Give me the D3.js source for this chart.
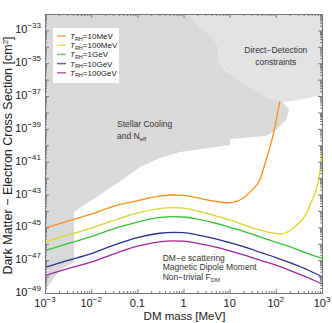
<!DOCTYPE html>
<html>
<head>
<meta charset="utf-8">
<script src="https://cdn.jsdelivr.net/npm/d3@7"></script>
<style>
  body { margin: 0; background: #fff; }
  svg text { font-family: "Liberation Sans", Arial, sans-serif; }
</style>
</head>
<body>
<div id="chart"></div>
<script>
// DM mass grid [MeV] and log10(cross section / cm^2)
const massLow = [1e-3, 3e-3, 1e-2, 3e-2, 0.1, 0.3, 0.6, 1, 2, 5, 10, 20, 50, 100, 200, 500, 1000];
const green  = [-46.42, -46.0, -45.57, -45.1, -44.68, -44.41, -44.35, -44.37, -44.5, -44.75, -45.0, -45.25, -45.62, -45.9, -46.18, -46.6, -46.89];
const blue   = [-47.44, -47.03, -46.6, -46.1, -45.62, -45.36, -45.3, -45.32, -45.46, -45.7, -45.93, -46.18, -46.56, -46.84, -47.15, -47.6, -48.01];
const purple = [-47.94, -47.53, -47.12, -46.63, -46.15, -45.88, -45.82, -45.84, -45.97, -46.2, -46.43, -46.68, -47.04, -47.3, -47.62, -48.07, -48.45];

const massYellow = [1e-3, 3e-3, 1e-2, 3e-2, 0.1, 0.3, 0.6, 1, 2, 5, 10, 20, 50, 100, 120, 200, 300, 450, 600, 750, 900, 1000];
const yellow = [-45.9, -45.48, -45.05, -44.58, -44.13, -43.86, -43.8, -43.83, -44.0, -44.3, -44.55, -44.85, -45.2, -45.38, -45.4, -45.22, -44.8, -44.2, -43.4, -42.7, -41.6, -40.3];

const massOrange = [1e-3, 3e-3, 1e-2, 3e-2, 0.1, 0.3, 0.6, 1, 2, 5, 9, 15, 20, 30, 45, 60, 87, 123];
const orange = [-45.05, -44.63, -44.2, -43.72, -43.38, -43.1, -43.03, -43.05, -43.2, -43.42, -43.5, -43.4, -43.2, -42.75, -42.1, -41.0, -39.4, -37.3];

const series = [
  { name: "10MeV",  mass: massOrange, val: orange, color: "#ff8c1a" },
  { name: "100MeV", mass: massYellow, val: yellow, color: "#d6d62c" },
  { name: "1GeV",   mass: massLow,    val: green,  color: "#33c433" },
  { name: "10GeV",  mass: massLow,    val: blue,   color: "#2b2f8f" },
  { name: "100GeV", mass: massLow,    val: purple, color: "#a0259e" }
];

// excluded regions, [log10 mass, log10 sigma]
const stellarRegion = [[-3, -32], [0.141, -32], [0.335, -32.79], [0.639, -33.4], [0.747, -34.01], [0.769, -34.99],
  [0.92, -35.47], [1.137, -35.9], [1.418, -36.39], [1.787, -37.06], [2.155, -37.36], [2.285, -37.85],
  [2.22, -38.46], [2.003, -39.07], [1.787, -39.43], [1.007, -39.62], [1.007, -39.98], [-0.076, -40.41],
  [-0.509, -40.78], [-0.942, -41.32], [-1.332, -42.12], [-1.657, -42.73], [-2.372, -44.07], [-2.372, -47.11],
  [-2.675, -47.6], [-3, -48.82]];
const directRegion = [[0.097, -32], [3, -32], [3, -36.94], [2.805, -37.06], [2.501, -37.24], [2.155, -37.36],
  [1.787, -37.06], [1.418, -36.45], [1.137, -35.96], [0.964, -35.53], [0.769, -34.99], [0.747, -34.01],
  [0.639, -33.4], [0.335, -32.79]];

const xTickVals = [1e-3, 1e-2, 0.1, 1, 10, 100, 1000];
const xTickLabels = [["10", "−3"], ["10", "−2"], ["0.1", ""], ["1", ""], ["10", ""], ["10", "2"], ["10", "3"]];
const yLabelExp = [-49, -47, -45, -43, -41, -39, -37, -35, -33];

const width = 332, height = 323;
const margin = { left: 45, right: 10, top: 14, bottom: 30 };
const innerWidth = width - margin.left - margin.right;
const innerHeight = height - margin.top - margin.bottom;

const svg = d3.select("#chart").append("svg")
  .attr("width", width).attr("height", height);
const g = svg.append("g").attr("transform", `translate(${margin.left},${margin.top})`);

const xScale = d3.scaleLog().domain([1e-3, 1e3]).range([0, innerWidth]);
const yScale = d3.scaleLog().domain([1e-49, 1e-32]).range([innerHeight, 0]);
const px = lm => xScale(Math.pow(10, lm));
const py = ls => yScale(Math.pow(10, ls));

g.append("clipPath").attr("id", "clip").append("rect")
  .attr("width", innerWidth).attr("height", innerHeight);
const plot = g.append("g").attr("clip-path", "url(#clip)");

const area = d3.line().x(d => px(d[0])).y(d => py(d[1]));
plot.append("path").datum(stellarRegion).attr("d", d => area(d) + "Z").attr("fill", "#d9d9d9");

const line = d3.line()
  .x(d => xScale(d[0]))
  .y(d => yScale(Math.pow(10, d[1])))
  .curve(d3.curveMonotoneX);
series.forEach(s => {
  plot.append("path")
    .datum(s.mass.map((m, i) => [m, s.val[i]]))
    .attr("d", line)
    .attr("fill", "none")
    .attr("stroke", s.color)
    .attr("stroke-width", 1.3);
});

plot.append("path").datum(directRegion).attr("d", d => area(d) + "Z").attr("fill", "#e3e3e3");

// region labels
const lab = g.append("g").attr("fill", "#333").style("font-size", "8.5px");
lab.append("text").attr("x", px(-1.44)).attr("y", py(-38.88)).text("Stellar Cooling");
const neff = lab.append("text").attr("x", px(-1.44)).attr("y", py(-39.6)).text("and N");
neff.append("tspan").attr("dy", 2).style("font-size", "6px").text("eff");
lab.append("text").attr("x", px(2.0)).attr("y", py(-34.4)).attr("text-anchor", "middle").text("Direct−Detection");
lab.append("text").attr("x", px(2.0)).attr("y", py(-35.12)).attr("text-anchor", "middle").text("constraints");
lab.append("text").attr("x", px(-0.45)).attr("y", py(-47.05)).text("DM−e scattering");
lab.append("text").attr("x", px(-0.45)).attr("y", py(-47.6)).text("Magnetic Dipole Moment");
const fdm = lab.append("text").attr("x", px(-0.45)).attr("y", py(-48.18)).text("Non−trivial F");
fdm.append("tspan").attr("dy", 2).style("font-size", "6px").text("DM");

// axes: major and minor ticks, pointing inward, on all four sides
const minorVals = (lo, hi) => {
  const v = [];
  for (let k = lo; k < hi; k++) for (let j = 2; j <= 9; j++) v.push(j * Math.pow(10, k));
  return v;
};
const yMajor = d3.range(-49, -31).map(k => Math.pow(10, k));
const axisColor = "#777";

function styleAxis(sel) {
  sel.select(".domain").attr("stroke", axisColor);
  sel.selectAll(".tick line").attr("stroke", axisColor);
}

[["bottom", innerHeight], ["top", 0]].forEach(([side, y0]) => {
  const make = side === "bottom" ? d3.axisBottom : d3.axisTop;
  g.append("g").attr("transform", `translate(0,${y0})`)
    .call(make(xScale).tickValues(minorVals(-3, 3)).tickSize(-2).tickFormat(""))
    .call(styleAxis);
  g.append("g").attr("transform", `translate(0,${y0})`)
    .call(make(xScale).tickValues(xTickVals).tickSize(-4).tickFormat(""))
    .call(styleAxis);
});
[["left", 0], ["right", innerWidth]].forEach(([side, x0]) => {
  const make = side === "left" ? d3.axisLeft : d3.axisRight;
  g.append("g").attr("transform", `translate(${x0},0)`)
    .call(make(yScale).tickValues(minorVals(-49, -32)).tickSize(-2).tickFormat(""))
    .call(styleAxis);
  g.append("g").attr("transform", `translate(${x0},0)`)
    .call(make(yScale).tickValues(yMajor).tickSize(-4).tickFormat(""))
    .call(styleAxis);
});

// tick labels
const tl = g.append("g").attr("fill", "#222").style("font-size", "11px");
xTickVals.forEach((v, i) => {
  const t = tl.append("text").attr("x", xScale(v)).attr("y", innerHeight + 14)
    .attr("text-anchor", "middle").text(xTickLabels[i][0]);
  if (xTickLabels[i][1]) t.append("tspan").attr("dy", -5).style("font-size", "8px").text(xTickLabels[i][1]);
});
yLabelExp.forEach(k => {
  const t = tl.append("text").attr("x", -4).attr("y", yScale(Math.pow(10, k)) + 3)
    .attr("text-anchor", "end").text("10");
  t.append("tspan").attr("dy", -5).style("font-size", "8px").text("−" + (-k));
});

// axis titles
g.append("text").attr("x", innerWidth / 2 + 1).attr("y", innerHeight + 27)
  .attr("text-anchor", "middle").style("font-size", "11.5px").attr("fill", "#222").text("DM mass [MeV]");
const yt = g.append("text").attr("transform", `translate(${-margin.left + 12},${innerHeight / 2 + 2}) rotate(-90)`)
  .attr("text-anchor", "middle").style("font-size", "12.5px").attr("fill", "#222")
  .text("Dark Matter − Electron Cross Section [cm");
yt.append("tspan").attr("dy", -4).style("font-size", "8px").text("2");
yt.append("tspan").attr("dy", 4).text("]");

// legend
const legend = g.append("g").attr("transform", "translate(8,14)");
legend.append("rect").attr("width", 66).attr("height", 55).attr("fill", "#fff");
series.forEach((s, i) => {
  const row = legend.append("g").attr("transform", `translate(0,${8 + i * 9.2})`);
  row.append("line").attr("x1", 4).attr("x2", 13).attr("stroke", s.color)
    .attr("stroke-width", 1.5).attr("stroke-opacity", 0.75);
  const t = row.append("text").attr("x", 17).attr("y", 3).style("font-size", "8px").attr("fill", "#222");
  t.append("tspan").style("font-style", "italic").text("T");
  t.append("tspan").attr("dy", 1.5).style("font-size", "5.5px").text("RH");
  t.append("tspan").attr("dy", -1.5).text("=" + s.name);
});
</script>
</body>
</html>
